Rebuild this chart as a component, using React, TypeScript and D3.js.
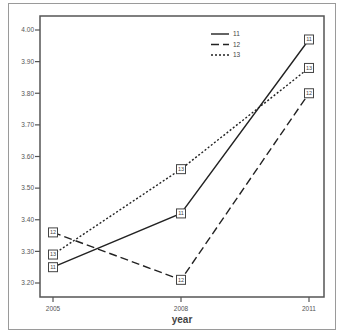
import React from "react";
import * as d3 from "d3";

const years = [2005, 2008, 2011];
const seriesNames = ["11", "12", "13"];
const values11 = [3.25, 3.42, 3.97];
const values12 = [3.36, 3.21, 3.80];
const values13 = [3.29, 3.56, 3.88];
const yTicks = [3.2, 3.3, 3.4, 3.5, 3.6, 3.7, 3.8, 3.9, 4.0];
const dashes = ["", "8,4", "2,2"];

export default function App() {
  const W = 344, H = 333;
  const left = 40, right = 324, top = 16, bottom = 297;
  const x = d3.scaleLinear().domain([2005, 2011]).range([53, 309]);
  const y = d3.scaleLinear().domain([3.2, 4.0]).range([283, 30]);
  const all = [values11, values12, values13];
  const line = d3
    .line<number>()
    .x((_, i) => x(years[i]))
    .y((d) => y(d));
  const font = "Liberation Sans, Arial, sans-serif";
  return (
    <svg
      width={W}
      height={H}
      style={{ position: "absolute", left: 0, top: 0 }}
      fontFamily={font}
    >
      <rect x={0} y={0} width={W} height={H} fill="#fff" />
      <rect x={8.5} y={3.5} width={327} height={326} fill="none" stroke="#9a9a9a" strokeWidth={1} />
      <rect x={left} y={top} width={right - left} height={bottom - top} fill="#fff" stroke="#555" strokeWidth={1.5} />
      {yTicks.map((t) => (
        <g key={t}>
          <line x1={left - 5} x2={left} y1={y(t)} y2={y(t)} stroke="#555" strokeWidth={1.2} />
          <text x={left - 6} y={y(t)} dy="0.35em" textAnchor="end" fontSize={6.5} fill="#555">
            {t.toFixed(2)}
          </text>
        </g>
      ))}
      {years.map((t) => (
        <g key={t}>
          <line x1={x(t)} x2={x(t)} y1={bottom} y2={bottom + 5} stroke="#555" strokeWidth={1.2} />
          <text x={x(t)} y={bottom + 14} textAnchor="middle" fontSize={6.5} fill="#555">
            {t}
          </text>
        </g>
      ))}
      <text x={182} y={323} textAnchor="middle" fontSize={10} fontWeight="bold" fill="#444">
        year
      </text>
      {all.map((vals, si) => (
        <path
          key={si}
          d={line(vals) || ""}
          fill="none"
          stroke="#222"
          strokeWidth={1.4}
          strokeDasharray={dashes[si] || undefined}
        />
      ))}
      {all.map((vals, si) =>
        vals.map((v, i) => (
          <g key={si + "-" + i}>
            <rect x={x(years[i]) - 4.5} y={y(v) - 4.5} width={9} height={9} fill="#fff" stroke="#444" strokeWidth={1} />
            <text x={x(years[i])} y={y(v)} dy="0.35em" textAnchor="middle" fontSize={5.5} fill="#444">
              {seriesNames[si]}
            </text>
          </g>
        ))
      )}
      {seriesNames.map((n, si) => (
        <g key={n}>
          <line
            x1={211}
            x2={229}
            y1={34 + si * 10.5}
            y2={34 + si * 10.5}
            stroke="#222"
            strokeWidth={1.4}
            strokeDasharray={dashes[si] || undefined}
          />
          <text x={233} y={34 + si * 10.5} dy="0.35em" fontSize={6.5} fill="#444">
            {n}
          </text>
        </g>
      ))}
    </svg>
  );
}
